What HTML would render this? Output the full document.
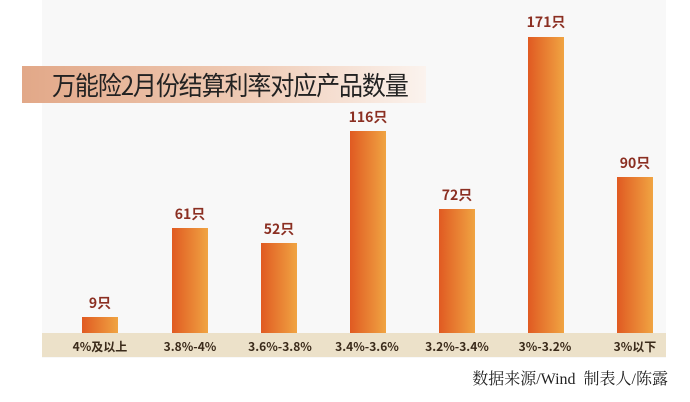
<!DOCTYPE html>
<html><head><meta charset="utf-8"><style>
body{margin:0;width:690px;height:402px;background:#fff;position:relative;overflow:hidden;font-family:"Liberation Sans","Noto Sans CJK SC",sans-serif}
.panel{position:absolute;left:42px;top:0;width:624px;height:358px;background:#f8f8f8}
.title{position:absolute;left:22px;top:66px;width:404px;height:37px;background:linear-gradient(90deg,#e2a888 0%,#efcab4 55%,#fbf3ee 100%)}
.title span{position:absolute;left:30px;top:2px;font-size:24px;line-height:32px;color:#222;letter-spacing:-1.1px;white-space:nowrap;transform:scaleY(1.08);transform-origin:left center;font-family:"Noto Sans CJK SC",sans-serif}
.strip{position:absolute;left:42px;top:333px;width:624px;height:24px;background:#ece1c9}
.bar{position:absolute;width:36px;background:linear-gradient(90deg,#e05a22,#f0a442);bottom:69px}
.v{position:absolute;width:60px;text-align:center;font-weight:bold;font-size:14px;color:#8b2f22;font-family:"Noto Sans CJK SC",sans-serif}
.x{position:absolute;top:338px;font-size:12px;font-weight:bold;color:#3a2a1a;width:90px;text-align:center;font-family:"Noto Sans CJK SC",sans-serif}
.src{position:absolute;right:22px;top:366px;font-size:16px;color:#222;white-space:nowrap;font-family:"Liberation Serif","Noto Serif CJK SC",serif}
</style></head><body>
<div class="panel"></div>
<div class="title"><span>万能险2月份结算利率对应产品数量</span></div>
<div class="strip"></div>
<div class="bar" style="left:82px;height:16px"></div>
<div class="bar" style="left:172px;height:105px"></div>
<div class="bar" style="left:261px;height:90px"></div>
<div class="bar" style="left:350px;height:202px"></div>
<div class="bar" style="left:439px;height:124px"></div>
<div class="bar" style="left:528px;height:296px"></div>
<div class="bar" style="left:617px;height:156px"></div>
<div class="v" style="left:70px;top:293px">9只</div>
<div class="v" style="left:160px;top:204px">61只</div>
<div class="v" style="left:249px;top:219px">52只</div>
<div class="v" style="left:338px;top:107px">116只</div>
<div class="v" style="left:427px;top:185px">72只</div>
<div class="v" style="left:516px;top:12px">171只</div>
<div class="v" style="left:605px;top:153px">90只</div>
<div class="x" style="left:55px">4%及以上</div>
<div class="x" style="left:145px">3.8%-4%</div>
<div class="x" style="left:235px">3.6%-3.8%</div>
<div class="x" style="left:322px">3.4%-3.6%</div>
<div class="x" style="left:412px">3.2%-3.4%</div>
<div class="x" style="left:500px">3%-3.2%</div>
<div class="x" style="left:590px">3%以下</div>
<div class="src">数据来源/Wind&nbsp; 制表人/陈露</div>
</body></html>
